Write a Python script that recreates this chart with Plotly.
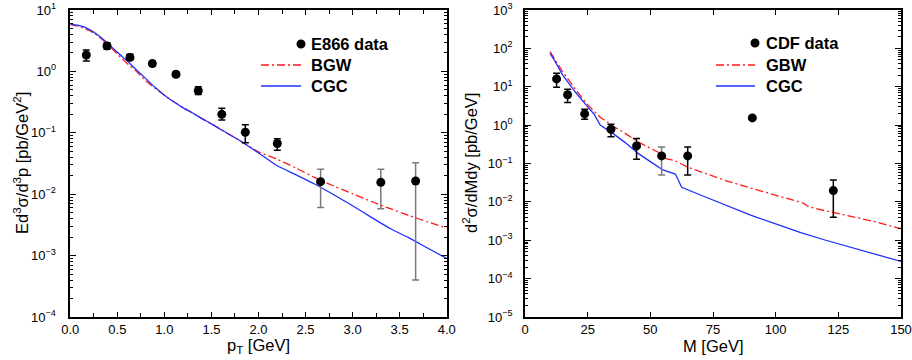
import plotly.graph_objects as go

# ---------------- Left panel data ----------------
pt_data = [0.17, 0.39, 0.634, 0.872, 1.123, 1.36, 1.61, 1.86, 2.2, 2.66, 3.30, 3.67]
e866_y = [1.85, 2.6, 1.69, 1.34, 0.90, 0.485, 0.2, 0.102, 0.067, 0.016, 0.0156, 0.0164]
e866_up = [2.23, 2.93, 1.90, 1.46, 0.98, 0.56, 0.25, 0.135, 0.080, 0.0254, 0.0254, 0.0326]
e866_lo = [1.48, 2.29, 1.53, 1.22, 0.82, 0.42, 0.162, 0.069, 0.052, 0.0061, 0.0058, 0.0004]
e866_grey = [False] * 9 + [True] * 3

pt_curve = [0.0, 0.1, 0.2, 0.3, 0.4, 0.5, 0.6, 0.7, 0.8, 0.9, 1.0, 1.1, 1.2, 1.3, 1.4,
            1.5, 1.6, 1.8, 2.0, 2.2, 2.4, 2.6, 2.8, 3.0, 3.2, 3.4, 3.6, 3.8, 4.0]
cgc_left = [5.9, 5.55, 4.85, 3.85, 2.85, 2.05, 1.5, 1.07, 0.77, 0.55, 0.41, 0.32, 0.255,
            0.21, 0.17, 0.14, 0.113, 0.075, 0.047, 0.029, 0.0207, 0.0145, 0.0098, 0.0065,
            0.0042, 0.00276, 0.00194, 0.00132, 0.0009]
bgw_left = [5.8, 5.4, 4.63, 3.72, 2.74, 1.91, 1.36, 1.01, 0.71, 0.53, 0.41, 0.32, 0.255,
            0.21, 0.17, 0.14, 0.113, 0.075, 0.049, 0.037, 0.0266, 0.0186, 0.0136, 0.0102,
            0.0076, 0.0058, 0.0045, 0.00353, 0.0028]

# ---------------- Right panel data ----------------
m_data = [12.6, 17.0, 23.8, 34.3, 44.5, 54.5, 64.9, 90.7, 123.0]
cdf_y = [16, 6.2, 1.96, 0.78, 0.287, 0.158, 0.158, 1.54, 0.0197]
cdf_up = [22.4, 8.6, 2.6, 1.05, 0.45, 0.27, 0.27, 1.54, 0.037]
cdf_lo = [9.7, 3.9, 1.43, 0.50, 0.13, 0.05, 0.05, 1.54, 0.004]
cdf_grey = [False, False, False, False, False, True, False, False, False]

m_gbw = [10, 12, 15, 20, 25, 30, 35, 40, 45, 50, 53, 55, 60, 65, 70, 80, 90, 100, 108,
         111, 113, 120, 130, 140, 150]
gbw_right = [82, 51, 25, 8.8, 3.4, 1.61, 0.95, 0.61, 0.37, 0.25, 0.20, 0.14, 0.117, 0.080,
             0.061, 0.036, 0.023, 0.0151, 0.011, 0.0093, 0.0076, 0.0058, 0.0042, 0.003,
             0.0020]
m_cgc = [10, 12, 15, 20, 25, 27.5, 30, 35, 40, 45, 50, 55, 60, 62.5, 70, 80, 90, 100, 110,
         120, 130, 140, 150]
cgc_right = [74, 46, 20.5, 7.4, 3.0, 1.95, 1.0, 0.61, 0.35, 0.186, 0.112, 0.068, 0.053,
             0.024, 0.0151, 0.0081, 0.0045, 0.00266, 0.00157, 0.001, 0.00066, 0.00043,
             0.00028]

RED = "#ff1a1a"
BLUE = "#1f2fff"
GREY = "#7a7a7a"
DASHDOT = "8px,3px,2px,3px"
FONT = "Liberation Sans, Arial, sans-serif"

W, H = 912, 360
EPS = 1e-4


def px(x):
    return x / W


def py(y):
    return 1 - y / H


fig = go.Figure()


def add_points(xs, ys, up, lo, grey, xa, ya):
    for g, col in ((False, "black"), (True, GREY)):
        idx = [i for i in range(len(xs)) if grey[i] == g]
        if not idx:
            continue
        fig.add_trace(go.Scatter(
            x=[xs[i] for i in idx], y=[ys[i] for i in idx], mode="markers",
            marker=dict(color="black", size=9),
            error_y=dict(type="data", symmetric=False,
                         array=[up[i] - ys[i] for i in idx],
                         arrayminus=[ys[i] - lo[i] for i in idx],
                         color=col, thickness=1.5, width=3.5),
            xaxis=xa, yaxis=ya, showlegend=False, cliponaxis=False))


# left curves
fig.add_trace(go.Scatter(x=pt_curve, y=bgw_left, mode="lines",
                         line=dict(color=RED, width=1.3, dash=DASHDOT, shape="spline", smoothing=0.6),
                         xaxis="x", yaxis="y", showlegend=False))
fig.add_trace(go.Scatter(x=pt_curve, y=cgc_left, mode="lines",
                         line=dict(color=BLUE, width=1.3, shape="spline", smoothing=0.6),
                         xaxis="x", yaxis="y", showlegend=False))
add_points(pt_data, e866_y, e866_up, e866_lo, e866_grey, "x", "y")

# right curves
fig.add_trace(go.Scatter(x=m_gbw, y=gbw_right, mode="lines",
                         line=dict(color=RED, width=1.3, dash=DASHDOT),
                         xaxis="x2", yaxis="y2", showlegend=False))
fig.add_trace(go.Scatter(x=m_cgc, y=cgc_right, mode="lines",
                         line=dict(color=BLUE, width=1.3),
                         xaxis="x2", yaxis="y2", showlegend=False))
add_points(m_data, cdf_y, cdf_up, cdf_lo, cdf_grey, "x2", "y2")


def sup_labels(exps):
    out = []
    for e in exps:
        s = str(e).replace("-", "\u2212")
        out.append("10<sup>%s</sup>" % s)
    return out


left_exps = [-4, -3, -2, -1, 0, 1]
right_exps = [-5, -4, -3, -2, -1, 0, 1, 2, 3]


def minor_vals(exps):
    v = []
    for e in exps[:-1]:
        for k in range(2, 10):
            v.append(k * 10 ** e)
    return v


tickfont = dict(family=FONT, size=13, color="black")
titlefont = dict(family=FONT, size=16.5, color="black")

common_x = dict(showline=True, linecolor="black", linewidth=1.5, mirror="allticks",
                ticks="inside", ticklen=5, tickwidth=1, tickcolor="black",
                showgrid=False, zeroline=False, tickfont=tickfont, automargin=False,
                ticklabeloverflow="allow")
common_y = dict(type="log", showline=True, linecolor="black", linewidth=1.5,
                mirror="allticks", ticks="inside", ticklen=6, tickwidth=1,
                tickcolor="black", showgrid=False, zeroline=False, tickfont=tickfont,
                automargin=False, ticklabeloverflow="allow")

y0d, y1d = py(317), py(10)

fig.update_layout(
    width=W, height=H, margin=dict(l=0, r=0, t=0, b=0, autoexpand=False),
    paper_bgcolor="white", plot_bgcolor="white",
    font=dict(family=FONT, color="black"),
    hovermode=False,
    xaxis=dict(common_x, domain=[px(70.3), px(446.7)], range=[0, 4 + EPS],
               tickmode="array", tickvals=[0, 0.5, 1, 1.5, 2, 2.5, 3, 3.5, 4],
               ticktext=["0.0", "0.5", "1.0", "1.5", "2.0", "2.5", "3.0", "3.5", "4.0"],
               minor=dict(tickmode="array", tickvals=[0.25, 0.75, 1.25, 1.75, 2.25, 2.75, 3.25, 3.75],
                          ticks="inside", ticklen=4, tickcolor="black"),
               anchor="y"),
    yaxis=dict(common_y, domain=[y0d, y1d], range=[-4, 1 + EPS],
               tickmode="array", tickvals=[10 ** e for e in left_exps],
               ticktext=sup_labels(left_exps), ticklabelstandoff=10,
               minor=dict(tickmode="array", tickvals=minor_vals(left_exps),
                          ticks="inside", ticklen=3, tickcolor="black"),
               anchor="x"),
    xaxis2=dict(common_x, domain=[px(525), px(901)], range=[0, 150 + EPS],
                tickmode="array", tickvals=[0, 25, 50, 75, 100, 125, 150],
                anchor="y2"),
    yaxis2=dict(common_y, domain=[y0d, y1d], range=[-5, 3 + EPS],
                tickmode="array", tickvals=[10 ** e for e in right_exps],
                ticktext=sup_labels(right_exps), ticklabelstandoff=8,
                minor=dict(tickmode="array", tickvals=minor_vals(right_exps),
                           ticks="inside", ticklen=3, tickcolor="black"),
                anchor="x2"),
)

# ---------------- Axis titles ----------------
titles = [
    ("p<sub>T</sub> [GeV]", 258, 346, 0),
    ("M [GeV]", 713, 346, 0),
    ("Ed<sup>3</sup>\u03c3/d<sup>3</sup>p [pb/GeV<sup>2</sup>]", 21, 163, -90),
    ("d<sup>2</sup>\u03c3/dMdy [pb/GeV]", 470, 163, -90),
]
for txt, tx, ty, ang in titles:
    fig.add_annotation(text=txt, xref="paper", yref="paper", x=px(tx), y=py(ty),
                       xanchor="center", yanchor="middle", textangle=ang,
                       showarrow=False, font=titlefont)

# ---------------- Manual legends ----------------
legfont = dict(family=FONT, size=16.5, color="black")


def legend(marker_x, text_x, line_x0, rows_y, labels):
    fig.add_shape(type="circle", xref="paper", yref="paper",
                  xsizemode="pixel", ysizemode="pixel",
                  xanchor=px(marker_x), yanchor=py(rows_y[0]),
                  x0=-4.5, x1=4.5, y0=-4.5, y1=4.5,
                  fillcolor="black", line=dict(color="black", width=0))
    fig.add_shape(type="line", xref="paper", yref="paper",
                  x0=px(line_x0), x1=px(marker_x), y0=py(rows_y[1]), y1=py(rows_y[1]),
                  line=dict(color=RED, width=1.3, dash=DASHDOT))
    fig.add_shape(type="line", xref="paper", yref="paper",
                  x0=px(line_x0), x1=px(marker_x), y0=py(rows_y[2]), y1=py(rows_y[2]),
                  line=dict(color=BLUE, width=1.3))
    for lab, yy in zip(labels, rows_y):
        fig.add_annotation(text="<b>%s</b>" % lab, xref="paper", yref="paper",
                           x=px(text_x), y=py(yy), xanchor="left", yanchor="middle",
                           showarrow=False, font=legfont)


legend(301, 309, 261, [44, 65, 86], ["E866 data", "BGW", "CGC"])
legend(755, 764, 716, [43, 65, 86], ["CDF data", "GBW", "CGC"])

# remove the browser's default 8px body margin so the 912x360 figure fills the page
fig.write_html("out.html", config={"displayModeBar": False},
               post_script="document.body.style.margin='0';")
